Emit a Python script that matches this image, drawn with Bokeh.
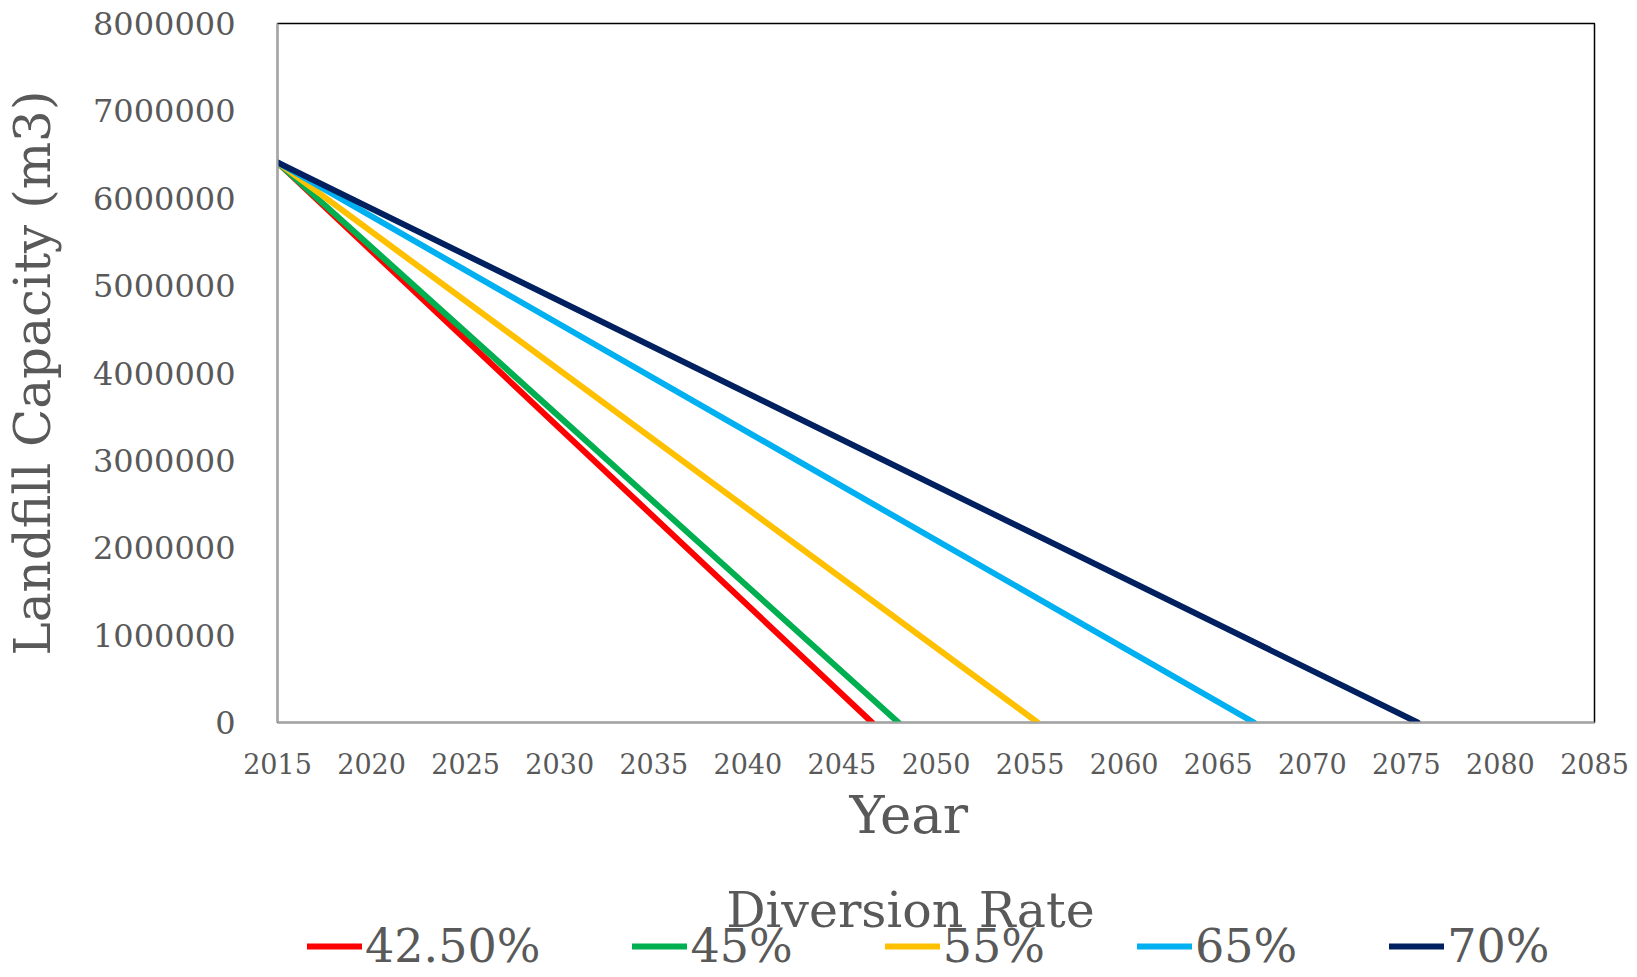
from bokeh.plotting import figure
from bokeh.layouts import column
from bokeh.models import FixedTicker, Legend, LegendItem, Title, Label, BasicTickFormatter
from bokeh.embed import file_html
from bokeh.resources import INLINE

# Data
series_names = ["42.50%", "45%", "55%", "65%", "70%"]
series_colors = ["#FF0000", "#00B050", "#FFC000", "#00B0F0", "#002060"]
start_year = 2015
start_capacity = 6410000
end_years = [2046.6, 2048.0, 2055.4, 2066.9, 2075.6]
end_capacity = 0
x_ticks = [2015, 2020, 2025, 2030, 2035, 2040, 2045, 2050, 2055, 2060, 2065, 2070, 2075, 2080, 2085]
y_ticks = [0, 1000000, 2000000, 3000000, 4000000, 5000000, 6000000, 7000000, 8000000]

FONT = "DejaVu Serif"
TXT = "#595959"
W = 1630
NAN = float("nan")

p = figure(frame_width=1317, frame_height=699, x_range=(2015, 2085), y_range=(0, 8000000),
           output_backend="svg", toolbar_location=None,
           min_border_left=275, min_border_top=23, min_border_right=38, min_border_bottom=136)
p.title.visible = False
p.xgrid.visible = False
p.ygrid.visible = False
p.outline_line_color = "black"
p.outline_line_width = 1.5

for name, color, ey in zip(series_names, series_colors, end_years):
    p.line([start_year, ey], [start_capacity, end_capacity], line_color=color,
           line_width=6, line_cap="round")

for ax in (p.xaxis[0], p.yaxis[0]):
    ax.axis_line_color = "#A6A6A6"
    ax.axis_line_width = 2
    ax.major_tick_line_color = None
    ax.minor_tick_line_color = None
    ax.major_label_text_font = FONT
    ax.major_label_text_color = TXT
    ax.axis_label_text_font = FONT
    ax.axis_label_text_color = TXT
    ax.axis_label_text_font_style = "normal"

p.xaxis.ticker = FixedTicker(ticks=x_ticks)
p.yaxis.ticker = FixedTicker(ticks=y_ticks)
p.yaxis.formatter = BasicTickFormatter(use_scientific=False)
p.xaxis.major_label_text_font_size = "27px"
p.yaxis.major_label_text_font_size = "32px"
p.xaxis.major_label_standoff = 24
p.yaxis.major_label_standoff = 36
p.yaxis.axis_label = "Landfill Capacity (m3)"
p.yaxis.axis_label_text_font_size = "50px"
p.yaxis.axis_label_standoff = 28

t_year = Title(text="Year", align="left", offset=572, text_font=FONT, text_font_size="53px",
               text_font_style="normal", text_color=TXT, standoff=10)
p.add_layout(t_year, "below")

# Legend strip below the chart (its frame is aligned with the main chart's frame)
p2 = figure(width=W, height=119, x_range=(0, 1), y_range=(0, 1), output_backend="svg",
            toolbar_location=None, min_border=0, x_axis_location=None, y_axis_location=None)
p2.title.visible = False
p2.grid.visible = False
p2.outline_line_color = None

leg_renderers = []
for name, color in zip(series_names, series_colors):
    r = p2.line(x=[NAN], y=[NAN], line_color=color, line_width=6, line_cap="round")
    leg_renderers.append((name, r))

p2.add_layout(Label(x=633, y=67, x_units="screen", y_units="screen", text="Diversion Rate",
                    text_align="center", text_baseline="alphabetic", text_font=FONT,
                    text_font_size="49px", text_color=TXT))

legend = Legend(items=[LegendItem(label=n, renderers=[r]) for n, r in leg_renderers],
                orientation="horizontal", location=(30, 4),
                label_text_font=FONT, label_text_font_size="46px", label_text_color=TXT,
                glyph_width=55, glyph_height=46, label_height=46, label_standoff=3, spacing=92,
                padding=0, margin=0, border_line_color=None, background_fill_alpha=0)
p2.add_layout(legend)

layout = column(p, p2, spacing=0)
open("out.html", "w").write(file_html(layout, INLINE))
